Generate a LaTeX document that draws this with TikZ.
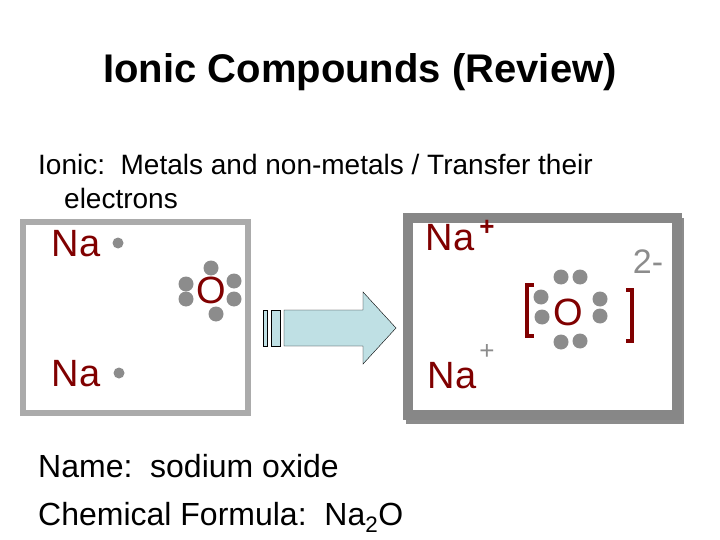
\documentclass[tikz,border=0pt]{standalone}
\usepackage{fontspec}
\setmainfont{Liberation Sans}
\definecolor{nared}{HTML}{800000}
\definecolor{dotg}{HTML}{8C8C8C}
\definecolor{arrowf}{HTML}{BFE0E4}
\begin{document}
\begin{tikzpicture}[x=1pt,y=-1pt,
  el/.style={circle,fill=dotg,inner sep=0pt,minimum width=13pt,minimum height=15pt},
  sym/.style={text=nared,font=\fontsize{38}{38}\selectfont,inner sep=0pt},
  txt/.style={anchor=base west,inner sep=0pt,font=\fontsize{28}{32}\selectfont}]
\useasboundingbox (0,0) rectangle (720,540);
\node[font=\bfseries\fontsize{40}{44}\selectfont] (title) at (360,72) {Ionic Compounds (Review)};
\node[txt] (l1) at (38,175) {Ionic:\ \ Metals and non-metals / Transfer their};
\node[txt] (l2) at (64,209) {electrons};
\node[txt,font=\fontsize{32}{36}\selectfont] (n1) at (38,477) {Name:\ \ sodium oxide};
\node[txt,font=\fontsize{32}{36}\selectfont] (n2) at (38,525) {Chemical Formula:\ \ Na\textsubscript{2}O};
% left box
\draw[line width=6pt,draw=black!33] (23,222) rectangle (248,413);
\node[sym] (na1) at (76,244) {Na};
\node[el,minimum width=11pt,minimum height=11pt] (d1) at (118,243) {};
\node[sym] (o1) at (211,290) {O};
\foreach \p in {(211,268),(186,284),(186,299),(234,281),(234,299),(216,314)} \node[el] at \p {};
\node[sym] (na2) at (76,374) {Na};
\node[el,minimum width=11pt,minimum height=11pt] (d2) at (119,373) {};
% arrow
\draw[fill=arrowf] (263,310) rectangle (267,346);
\draw[fill=arrowf] (271,310) rectangle (280,346);
\draw[fill=arrowf] (284,310) -- (363,310) -- (363,292) -- (396,328) -- (363,364) -- (363,346) -- (284,346) -- cycle;
% right box
\fill[black!45] (406,218) rectangle (684,424);
\draw[line width=10pt,draw=black!47,fill=white] (408,218) rectangle (677,415);
\node[sym] (na3) at (450,238) {Na};
\node[font=\bfseries\fontsize{26}{26}\selectfont,text=nared] (p1) at (487,228) {+};
\node[sym] (na4) at (452,376) {Na};
\node[font=\fontsize{26}{26}\selectfont,text=dotg] (p2) at (487,352) {+};
\node[font=\fontsize{34}{34}\selectfont,text=dotg] (q) at (648,262) {2-};
\draw[nared,line width=4.5pt] (534,285) -- (527,285) -- (527,336) -- (534,336);
\draw[nared,line width=4.5pt] (626,290) -- (632,290) -- (632,341) -- (626,341);
\node[sym] (o2) at (568,312) {O};
\foreach \p in {(561,277),(580,277),(541,297),(542,317),(600,299),(600,316),(561,342),(580,341)} \node[el] at \p {};
\end{tikzpicture}
\end{document}
